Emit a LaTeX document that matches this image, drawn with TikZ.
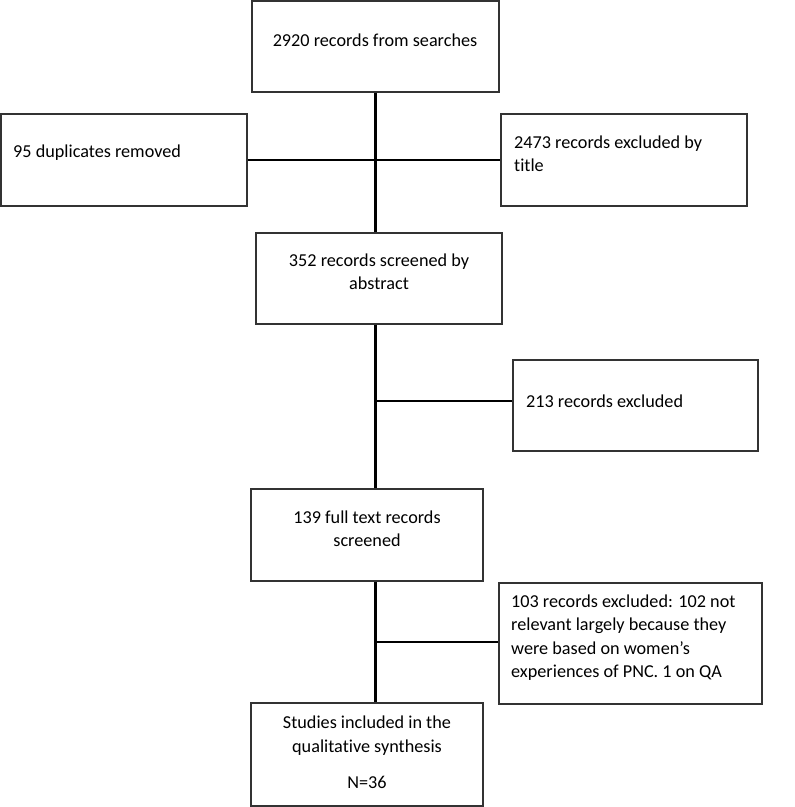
\documentclass[tikz,border=0pt]{standalone}
\usepackage{fontspec}
\setmainfont{Carlito}[Ligatures=NoCommon]
\usetikzlibrary{positioning}
\tikzset{
  box/.style={draw=black!80, line width=1.2pt, inner sep=0pt},
  lbl/.style={font=\fontsize{18.2}{23.5}\selectfont, inner sep=0pt},
  lblc/.style={lbl, align=center},
  lbll/.style={lbl, align=left, anchor=west},
  trunk/.style={line width=2.4pt},
  branch/.style={line width=1.3pt}
}
\begin{document}
\begin{tikzpicture}[x=1pt, y=-1pt]
\useasboundingbox (0,0) rectangle (795,807);
% ---------------- boxes ----------------
\node[box, minimum width=247, minimum height=91] (search)   at (375.5,46.5) {};
\node[box, minimum width=246, minimum height=92] (dupl)     at (124,160) {};
\node[box, minimum width=246, minimum height=92] (title)    at (624,160) {};
\node[box, minimum width=246, minimum height=91] (abstract) at (379,278.5) {};
\node[box, minimum width=245, minimum height=91] (excla)    at (635.5,405.5) {};
\node[box, minimum width=232, minimum height=92] (fulltext) at (367,535) {};
\node[box, minimum width=263, minimum height=121] (exclb)   at (630.5,643.5) {};
\node[box, minimum width=232, minimum height=103] (included) at (367,754.5) {};
% ---------------- texts ----------------
\node[lblc] (searchtxt)   at (375,40) {2920 records from searches};
\node[lbll] (dupltxt)     at (13,153) {95 duplicates removed};
\node[lbll] (titletxt)    at (514,153.5) {2473 records excluded by\\title};
\node[lblc] (abstracttxt) at (379,271.5) {352 records screened by\\abstract};
\node[lbll] (exclatxt)    at (526,401) {213 records excluded};
\node[lblc] (fulltexttxt) at (367,528.5) {139 full text records\\screened};
\node[lbll] (exclbtxt)    at (511,637.5) {103 records excluded: 102 not\\relevant largely because they\\were based on women’s\\experiences of PNC. 1 on QA};
\node[lblc] (includedtxt) at (367,752.5) {Studies included in the\\qualitative synthesis\\[13pt]N=36};
% ---------------- connectors ----------------
\coordinate (ja) at ([yshift=4.5pt]excla.west);
\coordinate (jb) at ([yshift=1.5pt]exclb.west);
\draw[trunk] (search.south) -- (search.south |- abstract.north);
\draw[trunk] (search.south |- abstract.south) -- (search.south |- fulltext.north);
\draw[trunk] (search.south |- fulltext.south) -- (search.south |- included.north);
\draw[branch] (dupl.east) -- (title.west);
\draw[branch] (search.south |- ja) -- (ja);
\draw[branch] (search.south |- jb) -- (jb);
\end{tikzpicture}
\end{document}
